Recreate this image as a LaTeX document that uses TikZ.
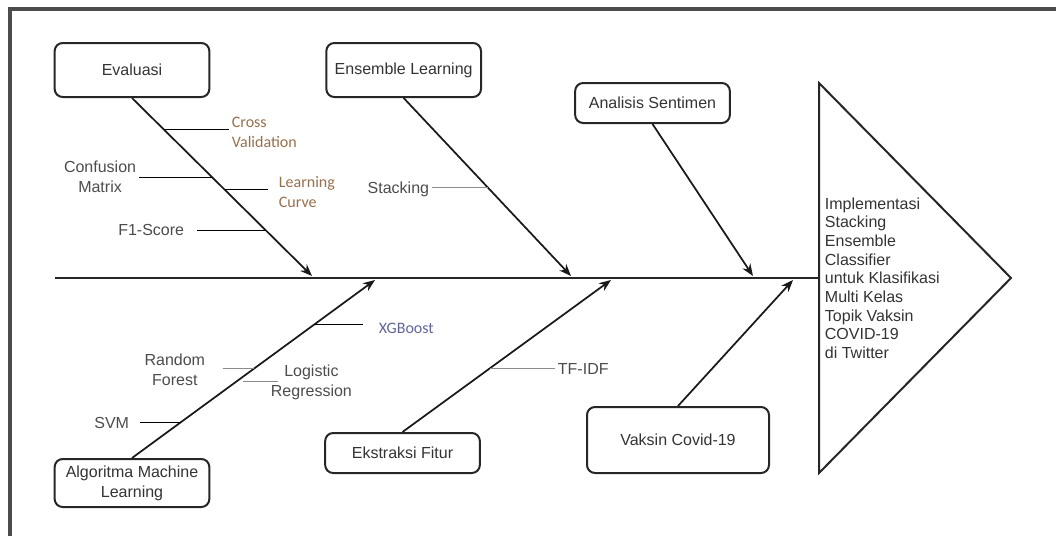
\documentclass[tikz,border=0pt]{standalone}
\usepackage{fontspec}
\setmainfont{Liberation Sans}
\newfontfamily\calibrifont{Carlito}
\usetikzlibrary{arrows.meta, calc, positioning}
\definecolor{warmtext}{RGB}{150,112,78}
\definecolor{cooltext}{RGB}{98,102,150}
\tikzset{
    cause/.style={draw=black!85, rectangle, rounded corners=6pt, line width=1.5pt, minimum width=116pt, align=center, text=black!80, font=\fontsize{12}{15}\selectfont},
    sub/.style={inner sep=2pt, align=center, text=black!70, font=\fontsize{12}{15}\selectfont},
    subc/.style={sub, align=left, font=\calibrifont\fontsize{12}{15}\selectfont},
    bone/.style={-{Stealth[length=9pt, width=7pt]}, line width=1.3pt, black!90},
    spine/.style={line width=2pt, black!85},
    twig/.style={line width=0.8pt, black},
    twiglight/.style={line width=0.8pt, black!45},
    frame/.style={line width=2.5pt, black!70} }

\begin{document}
\begin{tikzpicture}[x=0.75pt, y=-0.75pt, node distance=86.25pt]
			\useasboundingbox (0,0) rectangle (1056,536);
			\draw[frame] (10,536) -- (10,9) -- (1056,9);
			% causes
			\node[cause, minimum height=40.5pt] (ev) at (132,70) {Evaluasi};
			\node[cause, minimum height=40.5pt, right = of ev] (el) {Ensemble Learning};
			\node[cause, minimum height=30pt] (as) at (652.5,103) {Analisis Sentimen};
			\node[cause, minimum height=36pt] (am) at (132,483) {Algoritma Machine\\Learning};
			\node[cause, minimum height=30pt] (ef) at (402.5,453) {Ekstraksi Fitur};
			\node[cause, minimum width=136.5pt, minimum height=49.5pt] (vc) at (678,440) {Vaksin Covid-19};
			% spine and head
			\coordinate (tail) at (55,278);
			\coordinate (head) at (819,278);
			\coordinate (htop) at (819,83);
			\coordinate (hapex) at (1011,278);
			\coordinate (hbot) at (819,473);
			\node[sub, anchor=west, align=left, text=black!80, font=\fontsize{12}{14}\selectfont] (goal) at (822,278)
				{Implementasi\\Stacking\\Ensemble\\Classifier\\untuk Klasifikasi\\Multi Kelas\\Topik Vaksin\\COVID-19\\di Twitter};
			% tips on the spine
			\coordinate (t1) at (312,276);
			\coordinate (t2) at (571,276);
			\coordinate (t3) at (753,276);
			\coordinate (t4) at (375,280);
			\coordinate (t5) at (611,280);
			\coordinate (t6) at (793,280);
			% twig roots
			\coordinate (cvp) at ($(ev.south)!.179!(t1)$);
			\coordinate (cmp) at ($(ev.south)!.447!(t1)$);
			\coordinate (lcp) at ($(ev.south)!.514!(t1)$);
			\coordinate (f1p) at ($(ev.south)!.743!(t1)$);
			\coordinate (stp) at ($(el.south)!.503!(t2)$);
			\coordinate (xgp) at ($(am.north)!.749!(t4)$);
			\coordinate (rfp) at ($(am.north)!.503!(t4)$);
			\coordinate (lrp) at ($(am.north)!.430!(t4)$);
			\coordinate (svmp) at ($(am.north)!.201!(t4)$);
			\coordinate (tfp) at ($(ef.north)!.418!(t5)$);
			% sub causes
			\node[subc, anchor=west, text=warmtext] (cv) at (229,132) {Cross\\Validation};
			\node[sub, anchor=east] (cm) at (139,177) {Confusion\\Matrix};
			\node[subc, anchor=west, text=warmtext] (lc) at (276,192) {Learning\\Curve};
			\node[sub, anchor=east] (f1) at (187,230) {F1-Score};
			\node[sub, anchor=east] (st) at (432,189) {Stacking};
			\node[subc, anchor=west, text=cooltext] (xg) at (376,328) {XGBoost};
			\node[sub, anchor=east] (rf) at (208,369.5) {Random\\Forest};
			\node[sub, anchor=west] (lr) at (268,382.5) {Logistic\\Regression};
			\node[sub, anchor=east] (svm) at (132,423) {SVM};
			\node[sub, anchor=west] (tf) at (555,369) {TF-IDF};
			% ----
			\draw[spine] (tail) -- (head);
			\draw[line width=1.5pt, black!85] (htop) -- (hapex) -- (hbot) -- cycle;

			\draw[bone] (ev.south) -- (t1);
			\draw[bone] (el.south) -- (t2);
			\draw[bone] (as.south) -- (t3);
			\draw[bone] (am.north) -- (t4);
			\draw[bone] (ef.north) -- (t5);
			\draw[bone] (vc.north) -- (t6);

			\draw[twig] (cvp) -- (cvp -| cv.west);
			\draw[twig] (cm.east |- cmp) -- (cmp);
			\draw[twig, shorten >=6pt] (lcp) -- (lcp -| lc.west);
			\draw[twig, shorten <=7.5pt] (f1.east |- f1p) -- (f1p);
			\draw[twiglight] (st.east |- stp) -- (stp);

			\draw[twig, shorten >=10pt] (xgp) -- (xgp -| xg.west);
			\draw[twiglight, shorten <=11pt] (rf.east |- rfp) -- (rfp);
			\draw[twiglight, line width=1.2pt, shorten <=5pt, shorten >=-7.5pt] (lrp) -- (lrp -| lr.west);
			\draw[twig, shorten <=6pt] (svm.east |- svmp) -- (svmp);
			\draw[twiglight] (tfp) -- (tfp -| tf.west);
		\end{tikzpicture}
\end{document}
